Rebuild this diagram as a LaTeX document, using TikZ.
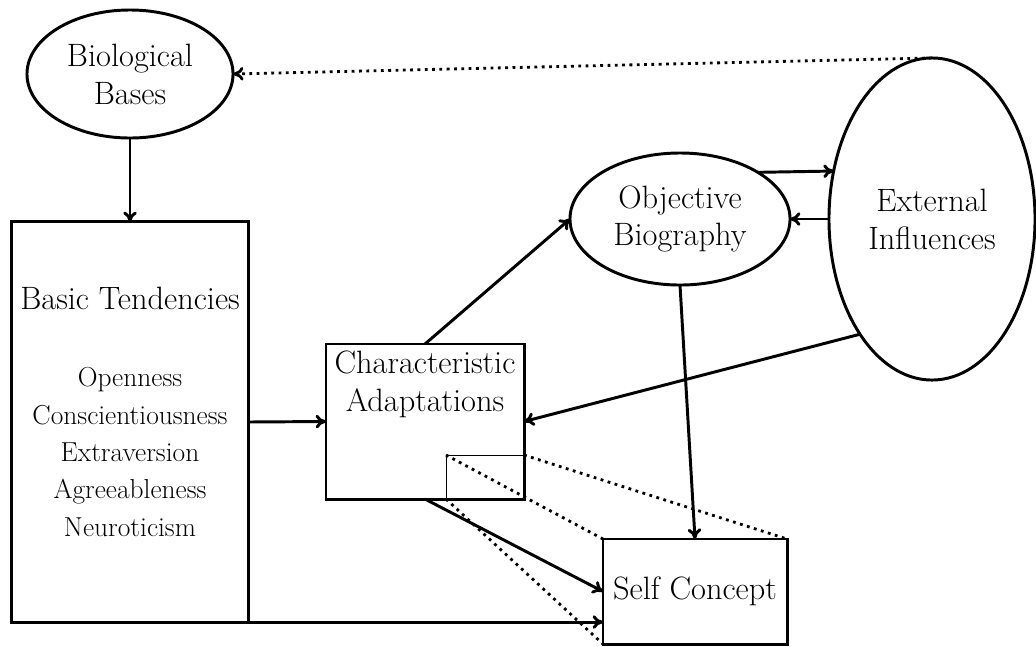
\documentclass[tikz,border=0pt]{standalone}
\usepackage{tikz}
\usetikzlibrary{arrows.meta,shapes.geometric}

\newcommand{\mainfont}{\fontsize{23}{27}\selectfont}
\newcommand{\listfont}{\fontsize{19.5}{26.6}\selectfont}

\begin{document}
\begin{tikzpicture}[
  x=0.025cm, y=-0.025cm,
  line width=2.1pt,
  box/.style={draw, rectangle, inner sep=0pt, outer sep=0pt, fill=white},
  oval/.style={draw, ellipse, inner sep=0pt, outer sep=0pt, align=center, font=\mainfont, fill=white},
  txt/.style={align=center, font=\mainfont},
  arrow/.style={-{To[length=2.6mm, width=3.4mm]}},
  dotline/.style={line width=2pt, dash pattern=on 2pt off 3.2pt}
]
\useasboundingbox (0,0) rectangle (1036,646);

% ovals
\node[oval, minimum width=5.15cm, minimum height=3.2cm] (bio) at (130,74) {Biological\\ Bases};
\node[oval, minimum width=5.5cm, minimum height=3.3cm] (obj) at (680,219) {Objective\\ Biography};
\node[oval, minimum width=5.15cm, minimum height=8.05cm] (ext) at (932,219) {External\\ Influences};

% boxes
\node[box, minimum width=5.9cm, minimum height=10cm] (basic) at (130,422) {};
\node[txt] (basictitle) at (130,298) {Basic Tendencies};
\node[txt, font=\listfont] (traits) at (130,452) {Openness\\ Conscientiousness\\ Extraversion\\ Agreeableness\\ Neuroticism};

\node[box, minimum width=4.95cm, minimum height=3.875cm] (char) at (425,421.5) {};
\node[txt] (chartxt) at (425,384) {Characteristic\\ Adaptations};
\node[draw, line width=0.7pt, inner sep=0pt, outer sep=0pt, minimum width=1.95cm, minimum height=1.1cm, anchor=south east] (zoomin) at (char.south east) {};

\node[box, font=\mainfont, minimum width=4.6cm, minimum height=2.625cm] (self) at (695,591.5) {Self Concept};

% connectors
\draw[arrow] (bio.south) -- (basic.north);
\draw[arrow] (basic.east) -- (char.west);
\draw[arrow] (char.north) -- (obj.west);
\draw[arrow] (obj.north east) -- (ext.154);
\draw[arrow] (ext.west) -- (obj.east);
\draw[arrow] (ext.238) -- (char.east);
\draw[arrow] (obj.south) -- (self.north);
\draw[arrow] (char.south) -- (self.west);
\draw[arrow] (basic.south east) -- (basic.south east -| self.west);
\draw[dotline, arrow] (ext.north) -- (bio.east);

% zoom lines
\draw[dotline] (zoomin.north west) -- (self.north west);
\draw[dotline] (zoomin.north east) -- (self.north east);
\draw[dotline] (zoomin.south west) -- (self.south west);
\end{tikzpicture}
\end{document}
